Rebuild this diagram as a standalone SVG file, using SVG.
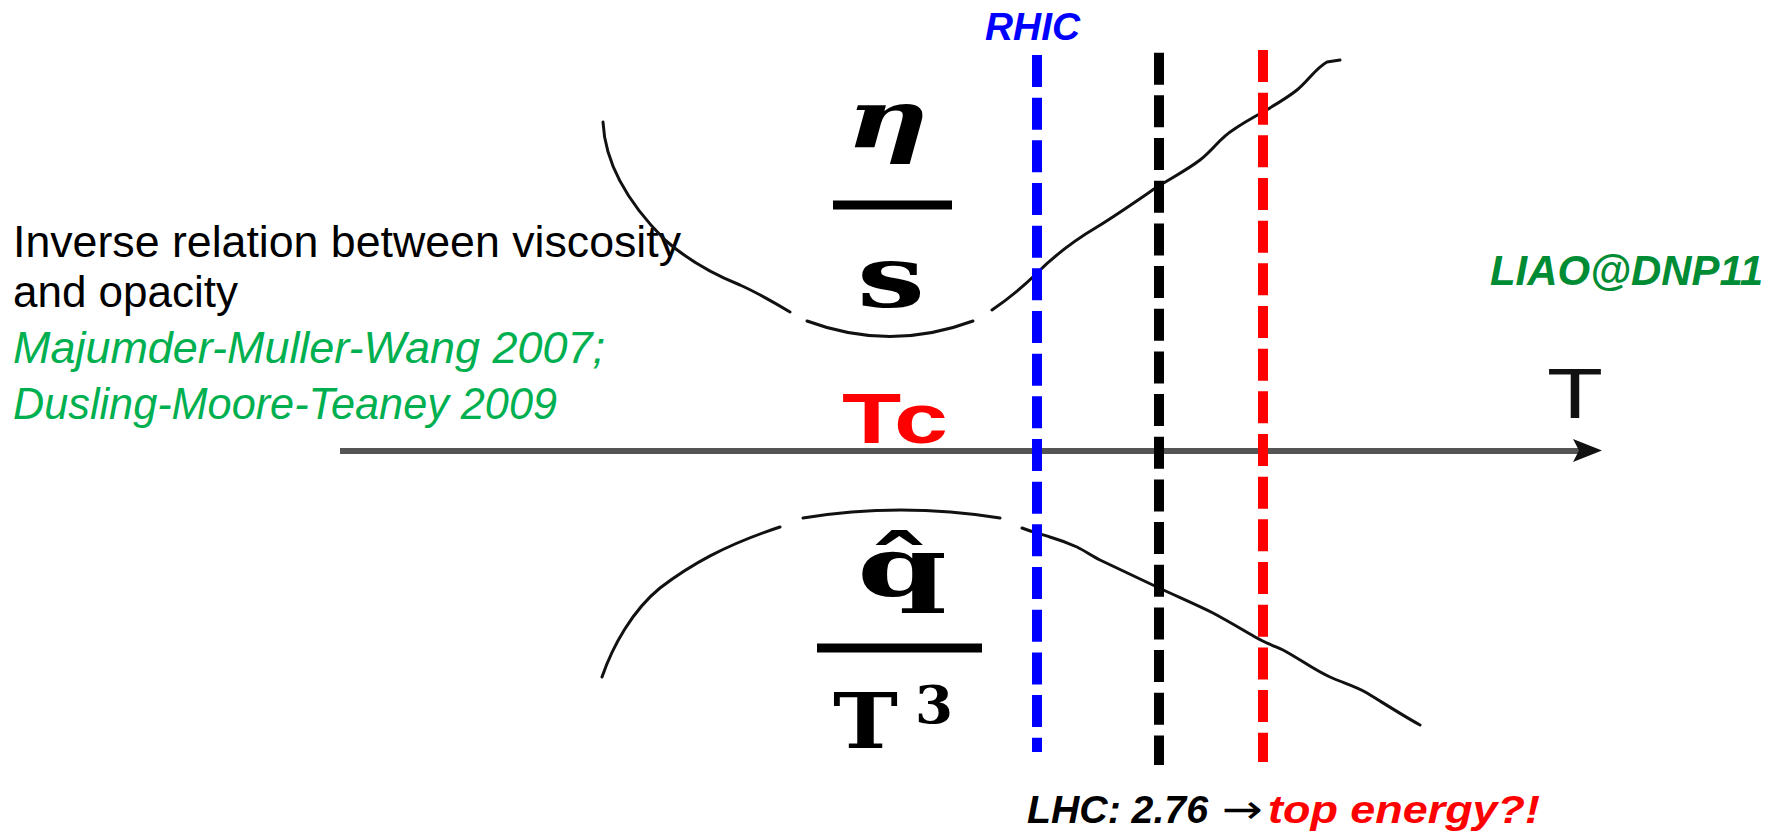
<svg xmlns="http://www.w3.org/2000/svg" width="1785" height="833" viewBox="0 0 1785 833">
<style>
.note{font-family:"Liberation Sans",Arial,sans-serif;font-size:45px;}
.cite{font-family:"Liberation Sans",Arial,sans-serif;font-size:45px;font-style:italic;fill:#00b050;}
.bi{font-family:"Liberation Sans",Arial,sans-serif;font-weight:bold;font-style:italic;}
.math{font-family:"DejaVu Serif","Liberation Serif",serif;font-weight:bold;fill:#000;}
.curve{fill:none;stroke:#111;stroke-width:3;stroke-linecap:round;stroke-linejoin:round;}
.dash{fill:none;stroke-width:10;stroke-dasharray:32 10.67;}
</style>
<rect width="1785" height="833" fill="#fff"/>

<g id="notes">
<text class="note" x="13" y="257" textLength="668" lengthAdjust="spacingAndGlyphs">Inverse relation  between viscosity</text>
<text class="note" x="13" y="307" textLength="225" lengthAdjust="spacingAndGlyphs">and opacity</text>
<text class="cite" x="13" y="363" textLength="592" lengthAdjust="spacingAndGlyphs">Majumder-Muller-Wang 2007;</text>
<text class="cite" x="13" y="419" textLength="544" lengthAdjust="spacingAndGlyphs">Dusling-Moore-Teaney 2009</text>
</g>

<g id="axis">
<line x1="340" y1="451" x2="1582" y2="451" stroke="#555" stroke-width="6"/>
<polygon points="1573,439 1602,450.5 1573,462 1579,450.5" fill="#111"/>
<text x="1547" y="418" font-family="'Liberation Sans',Arial,sans-serif" font-size="71" textLength="56" lengthAdjust="spacingAndGlyphs" fill="#111">T</text>
<text x="842" y="443" font-family="'Liberation Sans',Arial,sans-serif" font-weight="bold" font-size="71" fill="#ff0000" textLength="106" lengthAdjust="spacingAndGlyphs">Tc</text>
</g>

<g id="eta-over-s">
<text class="math" x="846" y="147" font-size="81" font-style="italic" textLength="83" lengthAdjust="spacingAndGlyphs">η</text>
<rect x="833" y="200.5" width="119" height="9" fill="#000"/>
<text class="math" x="857" y="307" font-size="86" textLength="68" lengthAdjust="spacingAndGlyphs">s</text>
</g>

<g id="qhat-over-T3">
<text class="math" x="857" y="596" font-size="82" textLength="90" lengthAdjust="spacingAndGlyphs">q̂</text>
<rect x="817" y="643.5" width="165" height="9" fill="#000"/>
<text class="math" x="833" y="748" font-size="77" textLength="65" lengthAdjust="spacingAndGlyphs">T</text>
<text class="math" x="915" y="723" font-size="52" textLength="38" lengthAdjust="spacingAndGlyphs">3</text>
</g>

<g id="curves">
<path class="curve" d="M603,122 C605,165 630,205 665,240 C690,262 715,275 740,285 C760,294 775,303 790,312"/>
<path class="curve" d="M807,321 Q890,352 973,321"/>
<path class="curve" d="M992,310 C1008,299 1022,288 1037,273 C1057,253 1075,240 1097,227 C1118,214 1138,200 1157,187 C1173,177 1187,170 1200,160 C1213,150 1220,138 1233,130 C1243,123 1252,118 1263,112 C1275,105 1287,98 1297,90 C1308,81 1316,68 1327,62 L1340,60"/>
<path class="curve" d="M602,677 C613,645 633,610 660,588 C690,565 725,545 780,527"/>
<path class="curve" d="M803,518 Q900,502 1000,518"/>
<path class="curve" d="M1022,528 C1032,532 1041,534 1050,537 C1060,540 1068,543 1077,547 C1085,551 1092,556 1100,560 C1119,569 1138,578 1157,587 C1176,596 1195,604 1213,613 C1228,621 1243,630 1257,638 C1266,643 1274,646 1283,650 C1300,659 1314,670 1330,677 C1343,683 1355,686 1367,693 C1385,704 1402,715 1420,725"/>
</g>

<g id="energy-lines">
<line class="dash" x1="1037" y1="55" x2="1037" y2="752" stroke="#0000ff"/>
<line class="dash" x1="1159" y1="52.7" x2="1159" y2="765" stroke="#000"/>
<line class="dash" x1="1263" y1="50" x2="1263" y2="762" stroke="#ff0000"/>
</g>

<g id="labels">
<text class="bi" x="985" y="40" font-size="39" fill="#0000ff" textLength="95" lengthAdjust="spacingAndGlyphs">RHIC</text>
<text class="bi" x="1490" y="285" font-size="42" fill="#008c34" textLength="273" lengthAdjust="spacingAndGlyphs">LIAO@DNP11</text>
<text class="bi" x="1027" y="823" font-size="39" fill="#000" textLength="181" lengthAdjust="spacingAndGlyphs">LHC: 2.76</text>
<text x="1222" y="823" font-family="'DejaVu Sans',sans-serif" font-size="40" fill="#000" textLength="41" lengthAdjust="spacingAndGlyphs">→</text>
<text class="bi" x="1268" y="823" font-size="39" fill="#ff0000" textLength="272" lengthAdjust="spacingAndGlyphs">top energy?!</text>
</g>
</svg>
